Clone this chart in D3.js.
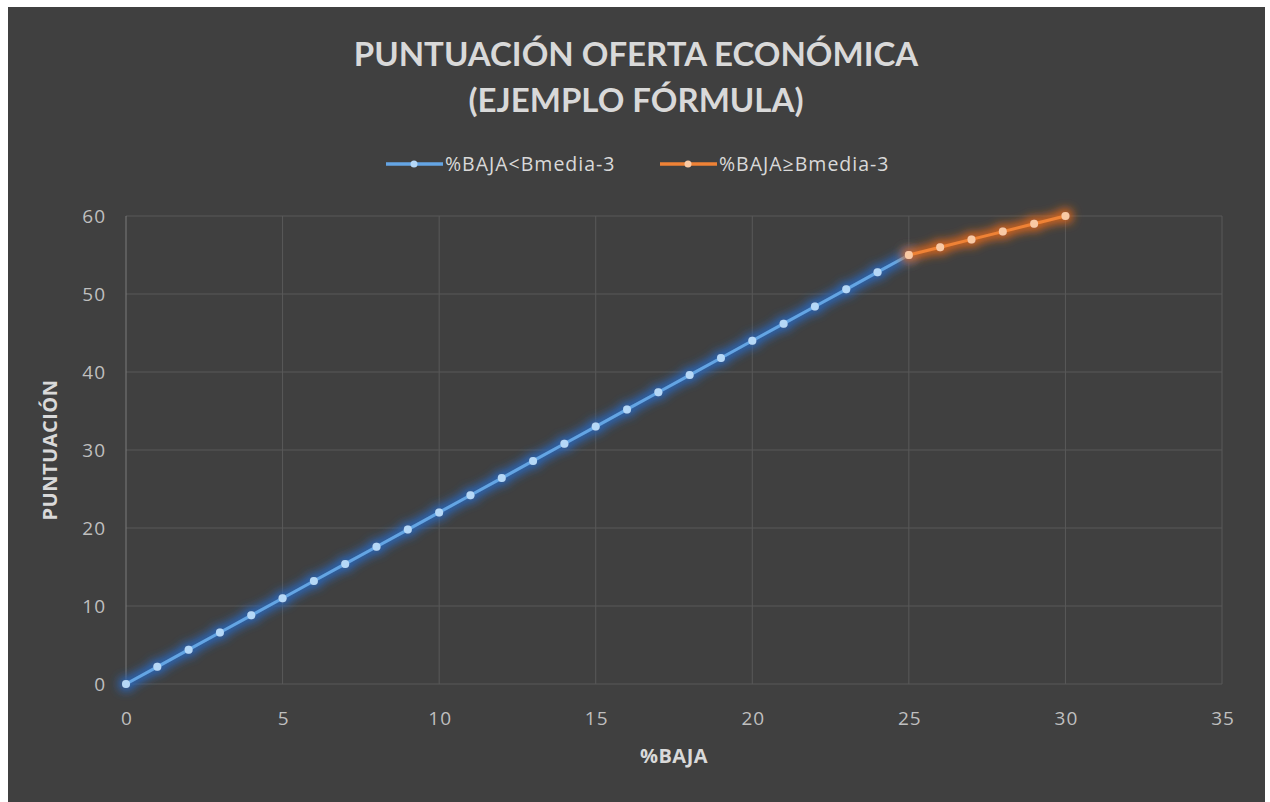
<!DOCTYPE html>
<html>
<head>
<meta charset="utf-8">
<script src="https://cdn.jsdelivr.net/npm/d3@7"></script>
<style>
  html, body { margin: 0; padding: 0; background: #fff; }
  svg { display: block; }
</style>
</head>
<body>
<div id="chart"></div>
<script>
// data
const bajaLow = [0, 1, 2, 3, 4, 5, 6, 7, 8, 9, 10, 11, 12, 13, 14, 15, 16, 17, 18, 19, 20, 21, 22, 23, 24, 25];
const puntLow = [0, 2.2, 4.4, 6.6, 8.8, 11, 13.2, 15.4, 17.6, 19.8, 22, 24.2, 26.4, 28.6, 30.8, 33, 35.2, 37.4, 39.6, 41.8, 44, 46.2, 48.4, 50.6, 52.8, 55];
const bajaHigh = [25, 26, 27, 28, 29, 30];
const puntHigh = [55, 56, 57, 58, 59, 60];
const xTicks = [0, 5, 10, 15, 20, 25, 30, 35];
const yTicks = [0, 10, 20, 30, 40, 50, 60];
const seriesNames = ["%BAJA<Bmedia-3", "%BAJA≥Bmedia-3"];
const titleLines = ["PUNTUACIÓN OFERTA ECONÓMICA", "(EJEMPLO FÓRMULA)"];

const W = 1270, H = 802;
const plot = { left: 126, right: 1222, top: 216, bottom: 684 };

const svg = d3.select("#chart").append("svg")
    .attr("width", W)
    .attr("height", H);

// glow filters
const defs = svg.append("defs");
function glow(id, color) {
    const f = defs.append("filter")
        .attr("id", id)
        .attr("filterUnits", "userSpaceOnUse")
        .attr("x", 0).attr("y", 0)
        .attr("width", W).attr("height", H);
    f.append("feMorphology").attr("in", "SourceAlpha").attr("operator", "dilate").attr("radius", 3).attr("result", "fat");
    f.append("feGaussianBlur").attr("in", "fat").attr("stdDeviation", 5).attr("result", "blur");
    f.append("feFlood").attr("flood-color", color).attr("flood-opacity", 1);
    f.append("feComposite").attr("in2", "blur").attr("operator", "in").attr("result", "glow");
    const m = f.append("feMerge");
    m.append("feMergeNode").attr("in", "glow");
    m.append("feMergeNode").attr("in", "SourceGraphic");
}
glow("glowBlue", "#2a66b8");
glow("glowOrange", "#d9661c");

svg.append("rect")
    .attr("x", 8).attr("y", 7)
    .attr("width", 1257).attr("height", H - 7)
    .attr("fill", "#404040");

const x = d3.scaleLinear().domain([0, 35]).range([plot.left, plot.right]);
const y = d3.scaleLinear().domain([0, 60]).range([plot.bottom, plot.top]);

// gridlines
svg.append("g")
    .selectAll("line")
    .data(yTicks)
    .enter().append("line")
    .attr("x1", plot.left).attr("x2", plot.right)
    .attr("y1", d => y(d)).attr("y2", d => y(d))
    .attr("stroke", "#595959").attr("stroke-width", 1);
svg.append("g")
    .selectAll("line")
    .data(xTicks.slice(1))
    .enter().append("line")
    .attr("x1", d => x(d)).attr("x2", d => x(d))
    .attr("y1", plot.top).attr("y2", plot.bottom)
    .attr("stroke", "#595959").attr("stroke-width", 1);
svg.append("line")
    .attr("x1", x(0)).attr("x2", x(0))
    .attr("y1", plot.top).attr("y2", plot.bottom)
    .attr("stroke", "#7a7a7a").attr("stroke-width", 1);

// axes (labels only)
const tickFont = "'Open Sans', 'DejaVu Sans', sans-serif";
const xAxis = svg.append("g")
    .attr("transform", `translate(0,${plot.bottom + 27})`)
    .call(d3.axisBottom(x).tickValues(xTicks).tickSize(0).tickPadding(0));
const yAxis = svg.append("g")
    .attr("transform", `translate(${plot.left - 20},0)`)
    .call(d3.axisLeft(y).tickValues(yTicks).tickSize(0).tickPadding(0));
[xAxis, yAxis].forEach(a => {
    a.select(".domain").remove();
    a.selectAll("text")
        .attr("fill", "#bfbfbf")
        .style("font-family", tickFont)
        .style("font-size", "19px")
        .style("letter-spacing", "1px");
});
yAxis.selectAll("text").attr("dy", "0.35em");
xAxis.selectAll("text").attr("dx", "0.5px");

// series
const lowData = bajaLow.map((b, i) => ({ x: b, y: puntLow[i] }));
const highData = bajaHigh.map((b, i) => ({ x: b, y: puntHigh[i] }));
const line = d3.line().x(d => x(d.x)).y(d => y(d.y));

function drawSeries(data, color, marker, filterId) {
    const g = svg.append("g").attr("filter", `url(#${filterId})`);
    g.append("path")
        .datum(data)
        .attr("d", line)
        .attr("fill", "none")
        .attr("stroke", color)
        .attr("stroke-width", 3)
        .attr("stroke-linejoin", "round")
        .attr("stroke-linecap", "round");
    g.selectAll("circle")
        .data(data)
        .enter().append("circle")
        .attr("cx", d => x(d.x))
        .attr("cy", d => y(d.y))
        .attr("r", 4)
        .attr("fill", marker);
}
drawSeries(lowData, "#64a5e4", "#b5d8f7", "glowBlue");
drawSeries(highData, "#ef8236", "#f9c9a4", "glowOrange");

// title
const title = svg.append("text")
    .attr("text-anchor", "middle")
    .attr("fill", "#d9d9d9")
    .style("font-family", "Lato, 'Open Sans', sans-serif")
    .style("font-weight", "bold")
    .style("font-size", "33px");
titleLines.forEach((t, i) => {
    title.append("tspan")
        .attr("x", 636)
        .attr("y", 66 + i * 46)
        .text(t);
});

// legend
const legendItems = [
    { name: seriesNames[0], color: "#64a5e4", marker: "#b5d8f7", x: 386 },
    { name: seriesNames[1], color: "#ef8236", marker: "#f9c9a4", x: 660 }
];
const lg = svg.append("g").selectAll("g")
    .data(legendItems)
    .enter().append("g")
    .attr("transform", d => `translate(${d.x},164)`);
lg.append("line")
    .attr("x1", 0).attr("x2", 57)
    .attr("stroke", d => d.color)
    .attr("stroke-width", 3.5);
lg.append("circle")
    .attr("cx", 28).attr("r", 3.5)
    .attr("fill", d => d.marker);
lg.append("text")
    .attr("x", 59)
    .attr("dy", "0.36em")
    .attr("fill", "#d9d9d9")
    .style("font-family", tickFont)
    .style("font-size", "19.5px")
    .style("letter-spacing", "1px")
    .text(d => d.name);

// axis titles
svg.append("text")
    .attr("x", (plot.left + plot.right) / 2)
    .attr("y", 763)
    .attr("text-anchor", "middle")
    .attr("fill", "#d9d9d9")
    .style("font-family", tickFont)
    .style("font-weight", "bold")
    .style("font-size", "20px")
    .style("letter-spacing", "0.5px")
    .text("%BAJA");
svg.append("text")
    .attr("transform", `translate(57,${(plot.top + plot.bottom) / 2}) rotate(-90)`)
    .attr("text-anchor", "middle")
    .attr("fill", "#d9d9d9")
    .style("font-family", tickFont)
    .style("font-weight", "bold")
    .style("font-size", "20px")
    .style("letter-spacing", "0.5px")
    .text("PUNTUACIÓN");
</script>
</body>
</html>
